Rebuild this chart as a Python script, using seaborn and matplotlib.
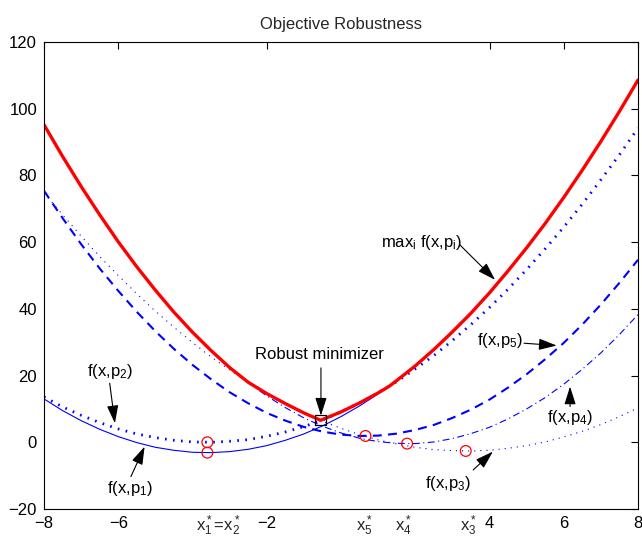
import matplotlib
matplotlib.use("Agg")
import matplotlib.pyplot as plt
import matplotlib.transforms as mtransforms
import seaborn as sns

# ---- data ----
xs = [-8, -7.5, -7, -6.5, -6, -5.5, -5, -4.5, -4, -3.5, -3, -2.5, -2, -1.5, -1, -0.5, 0,
      0.5, 1, 1.5, 2, 2.5, 3, 3.5, 4, 4.5, 5, 5.5, 6, 6.5, 7, 7.5, 8]
f1 = [13.0, 9.5, 6.5, 3.9, 1.7, -0.1, -1.5, -2.4, -3.0, -3.1, -2.8, -2.1, -1.0, 0.6, 2.5, 4.9, 7.7,
      10.9, 14.5, 18.5, 22.9, 27.8, 33.1, 38.7, 44.8, 51.4, 58.3, 65.6, 73.4, 81.6, 90.2, 99.2, 108.6]
f2 = [13.6, 10.6, 8.1, 5.9, 4.0, 2.5, 1.4, 0.6, 0.1, 0.0, 0.3, 0.8, 1.8, 3.1, 4.7, 6.7, 9.1,
      11.8, 14.8, 18.2, 22.0, 26.0, 30.5, 35.3, 40.4, 45.9, 51.8, 58.0, 64.5, 71.4, 78.7, 86.2, 94.2]
f3 = [74.8, 68.2, 61.8, 55.7, 50.0, 44.5, 39.3, 34.5, 29.9, 25.6, 21.7, 18.0, 14.6, 11.6, 8.8, 6.3, 4.2,
      2.3, 0.7, -0.5, -1.5, -2.2, -2.5, -2.6, -2.4, -1.8, -1.0, 0.1, 1.6, 3.3, 5.3, 7.7, 10.3]
f4 = [95.2, 85.7, 76.7, 68.2, 60.1, 52.6, 45.6, 39.0, 33.0, 27.5, 22.4, 17.9, 13.9, 10.4, 7.3, 4.8, 2.8,
      1.2, 0.2, -0.3, -0.4, 0.1, 1.1, 2.6, 4.5, 7.0, 10.0, 13.4, 17.4, 21.9, 26.8, 32.3, 38.3]
f5 = [75.4, 67.2, 59.4, 52.1, 45.4, 39.1, 33.3, 28.0, 23.2, 18.9, 15.0, 11.7, 8.8, 6.5, 4.6, 3.2, 2.3,
      1.9, 2.0, 2.6, 3.7, 5.2, 7.3, 9.8, 12.8, 16.4, 20.4, 24.9, 29.8, 35.3, 41.3, 47.8, 54.7]

x_max = [-8, -7.5, -7, -6.5, -6, -5.5, -5, -4.5, -4, -3.5, -3, -2.5, -2, -1.5, -1, -0.55, 0, 0.5, 1,
         1.3, 1.5, 2, 2.5, 3, 3.5, 4, 4.5, 5, 5.5, 6, 6.5, 7, 7.5, 8]
f_max = [95.2, 85.7, 76.7, 68.2, 60.1, 52.6, 45.6, 39.0, 33.0, 27.5, 22.4, 18.0, 14.6, 11.6, 8.8, 6.6,
         9.1, 11.8, 14.8, 16.8, 18.5, 22.9, 27.8, 33.1, 38.7, 44.8, 51.4, 58.3, 65.6, 73.4, 81.6, 90.2,
         99.2, 108.6]

min_x = [-3.6, -3.6, 3.36, 1.78, 0.66]
min_y = [-3.1, 0.0, -2.6, -0.4, 1.9]
robust_x = [-0.55]
robust_y = [6.6]

xtick_vals = [-8, -6, -2, 4, 6, 8]
ytick_vals = [-20, 0, 20, 40, 60, 80, 100, 120]

title = "Objective Robustness"

# ---- style ----
sns.set_theme(style="white")
plt.rcParams["font.family"] = ["Liberation Sans", "DejaVu Sans"]
plt.rcParams["mathtext.fontset"] = "custom"
plt.rcParams["mathtext.rm"] = "Liberation Sans"
plt.rcParams["mathtext.it"] = "Liberation Sans:italic"
plt.rcParams["mathtext.bf"] = "Liberation Sans:bold"
plt.rcParams["mathtext.sf"] = "Liberation Sans"
plt.rcParams["lines.scale_dashes"] = False

fig = plt.figure(figsize=(6.42, 5.42), dpi=100)
ax = fig.add_axes([44 / 642, 1 - 509 / 542, (638 - 44) / 642, (509 - 42) / 542])

blue = "#0000ff"
sns.lineplot(x=xs, y=f1, ax=ax, color=blue, linewidth=0.8, linestyle="-", sort=False)
sns.lineplot(x=xs, y=f2, ax=ax, color=blue, linewidth=2.0, linestyle=(0, (1.2, 4.6)), sort=False)
sns.lineplot(x=xs, y=f3, ax=ax, color=blue, linewidth=0.8, linestyle=(0, (0.8, 3.6)), sort=False)
sns.lineplot(x=xs, y=f4, ax=ax, color=blue, linewidth=0.8, linestyle=(0, (5, 2.5, 0.8, 2.5)), sort=False)
sns.lineplot(x=xs, y=f5, ax=ax, color=blue, linewidth=1.5, linestyle=(0, (6.5, 4.5)), sort=False)
sns.lineplot(x=x_max, y=f_max, ax=ax, color="#ff0000", linewidth=2.4, linestyle="-", sort=False)

sns.scatterplot(x=min_x, y=min_y, ax=ax, marker="o", s=60, facecolor="none",
                edgecolor="#ff0000", linewidth=0.9, zorder=5)
sns.scatterplot(x=robust_x, y=robust_y, ax=ax, marker="s", s=55, facecolor="none",
                edgecolor="black", linewidth=0.9, zorder=6)

fs = 12
ax.set_xlim(-8, 8)
ax.set_ylim(-20, 120)
ax.set_xticks(xtick_vals)
ax.set_yticks(ytick_vals)
ax.tick_params(direction="in", top=True, right=True, length=5, width=0.8,
               labelsize=fs, colors="black", pad=5)
for s in ax.spines.values():
    s.set_visible(True)
    s.set_color("black")
    s.set_linewidth(0.8)
ax.set_title(title, fontsize=fs, pad=9)
ax.set_xlabel("")
ax.set_ylabel("")

arrow_kw = dict(arrowstyle="-|>,head_length=1.1,head_width=0.35", color="black",
                lw=0.8, shrinkA=0, shrinkB=0, mutation_scale=10)

def label(txt, pos, tail, tip):
    ax.text(pos[0], pos[1], txt, ha="center", va="center", fontsize=fs, color="black")
    ax.annotate("", xy=tip, xytext=tail, arrowprops=arrow_kw)

label("Robust minimizer", (-0.59, 26.4), (-0.54, 22.3), (-0.54, 8.0))
label(r"$\mathrm{max}_\mathrm{i}\ \mathrm{f(x{,}p}_\mathrm{i}\mathrm{)}$", (2.16, 59.8), (3.2, 59.2), (4.15, 48.7))
label(r"$\mathrm{f(x{,}p}_5\mathrm{)}$", (4.29, 30.6), (4.93, 29.7), (5.81, 29.0))
label(r"$\mathrm{f(x{,}p}_4\mathrm{)}$", (6.17, 7.3), (6.17, 10.7), (6.17, 16.7))
label(r"$\mathrm{f(x{,}p}_3\mathrm{)}$", (2.88, -12.3), (3.56, -8.3), (4.09, -2.8))
label(r"$\mathrm{f(x{,}p}_1\mathrm{)}$", (-5.69, -13.8), (-5.66, -10.3), (-5.29, -1.3))
label(r"$\mathrm{f(x{,}p}_2\mathrm{)}$", (-6.23, 21.2), (-6.23, 17.7), (-6.09, 5.7))

trans = mtransforms.blended_transform_factory(ax.transData, ax.transAxes)
xstar_labels = [r"$\mathrm{x}^*_1\!=\!\mathrm{x}^*_2$", r"$\mathrm{x}^*_5$", r"$\mathrm{x}^*_4$", r"$\mathrm{x}^*_3$"]
xstar_pos = [-3.3, 0.63, 1.67, 3.43]
for t, xp in zip(xstar_labels, xstar_pos):
    ax.text(xp, -0.01, t, transform=trans, ha="center", va="top", fontsize=fs, clip_on=False)

fig.savefig("out.png", dpi=100)
